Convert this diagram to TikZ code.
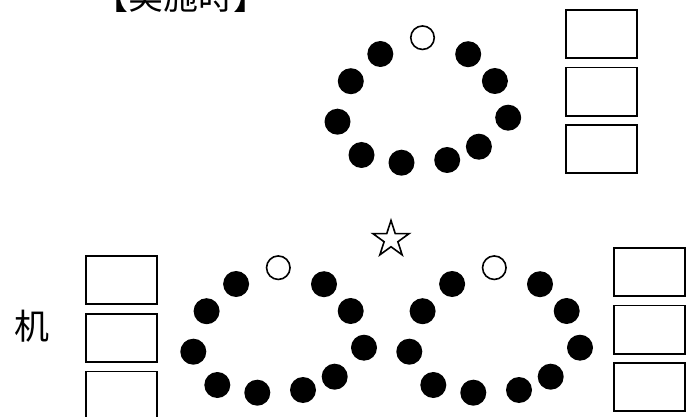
\documentclass[tikz,border=0pt]{standalone}
\usepackage{fontspec}
\newfontfamily\cjk{Noto Sans CJK JP}
\usetikzlibrary{shapes.geometric}
\tikzset{
  seat/.style={circle,fill=black,minimum size=26pt,inner sep=0pt},
  lead/.style={circle,draw=black,line width=1.6pt,minimum size=23.5pt,inner sep=0pt},
  desk/.style={rectangle,draw=black,line width=1.8pt,minimum width=71.2pt,minimum height=48.2pt,inner sep=0pt},
  lbl/.style={font=\cjk\fontsize{35}{35}\selectfont,inner sep=0pt,anchor=base},
  starmark/.style={star,star points=5,star point ratio=2.618,draw=black,line width=1.6pt,minimum size=38pt,inner sep=0pt},
}
\newcommand\mkgroup[3]{%
  \begin{scope}[shift={(#2,#3)}]
    \node[lead] (#1o) at (0,0) {};
    \foreach \i/\px/\py in {1/-42.2/16.3,2/-71.7/43.5,3/-85/84,4/-61/117.3,5/-21/125,6/24.7/122.3,7/56.4/109,8/85.7/80,9/72.4/43.3,10/45.7/16.5}
      \node[seat] (#1s\i) at (\px,\py) {};
  \end{scope}}
\begin{document}
\begin{tikzpicture}[x=1pt,y=-1pt]
  \useasboundingbox (0,0) rectangle (697,417);
  \node[lbl] (title) at (181,10) {【実施時】};
  \node[lbl] (desklbl) at (32.5,339.5) {机};
  \mkgroup{t}{422.5}{37.7}
  \mkgroup{l}{278.3}{267.7}
  \mkgroup{r}{494.3}{267.7}
  \node[starmark] (star) at (391,239.5) {};
  \node[desk] (td1) at (601.5,34.3) {};
  \node[desk] (td2) at (601.5,91.7) {};
  \node[desk] (td3) at (601.5,149) {};
  \node[desk] (ld1) at (121.3,280) {};
  \node[desk] (ld2) at (121.3,338) {};
  \node[desk] (ld3) at (121.3,395.5) {};
  \node[desk] (rd1) at (649.5,272) {};
  \node[desk] (rd2) at (649.5,329.5) {};
  \node[desk] (rd3) at (649.5,387) {};
\end{tikzpicture}
\end{document}
